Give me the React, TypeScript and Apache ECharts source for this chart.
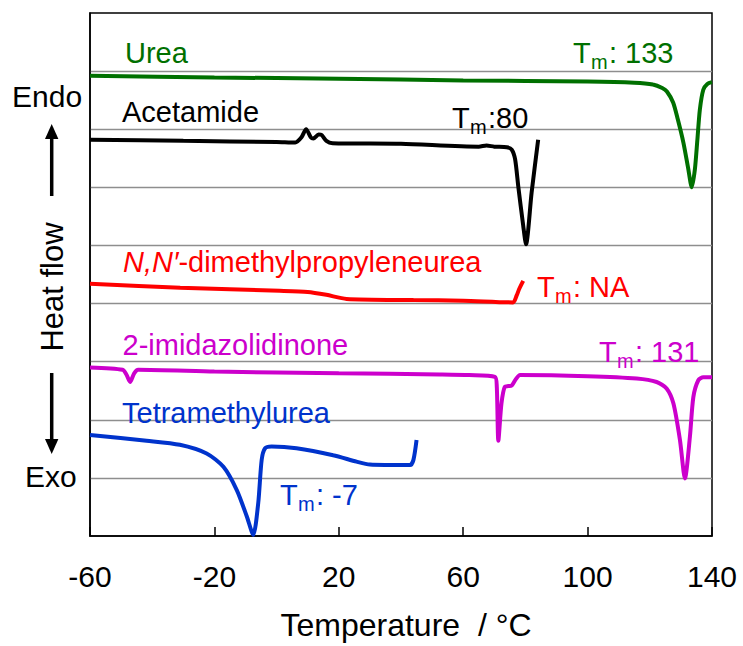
import React, { useEffect, useRef } from "react";
import * as echarts from "echarts";

const FONT = "'Liberation Sans', Arial, sans-serif";

// x tick labels (°C)
const xTicks = [-60, -20, 20, 60, 100, 140];

// DSC curves: [temperature °C, heat flow (arbitrary, offset units)]
const ureaData: [number, number][] = [
  [-60, 7.92], [-20, 7.89], [20, 7.87], [60, 7.84], [100, 7.82], [115, 7.8],
  [121, 7.77], [124, 7.71], [125.5, 7.65], [127.5, 7.46], [129, 7.17],
  [130.8, 6.77], [132.3, 6.34], [133.5, 6.0], [134.5, 6.31], [135.3, 6.82],
  [136.1, 7.34], [137.2, 7.68], [138.5, 7.78], [140, 7.81],
];
const acetamideData: [number, number][] = [
  [-60, 6.82], [-30, 6.8], [0, 6.78], [6, 6.77], [8, 6.86], [9.5, 7.0],
  [11, 6.86], [11.8, 6.84], [13.5, 6.91], [14.5, 6.9], [16, 6.8], [18, 6.76],
  [40, 6.75], [65, 6.7], [67.5, 6.72], [70, 6.7], [74, 6.69], [75.6, 6.65],
  [76.7, 6.48], [77.7, 6.02], [79.3, 5.34], [80.2, 5.02], [82, 5.91], [84.1, 6.82],
];
const dmpuData: [number, number][] = [
  [-60, 4.34], [-31, 4.27], [1, 4.22], [10, 4.2], [16, 4.15], [22.5, 4.08],
  [44, 4.06], [60, 4.05], [76, 4.02], [77.2, 4.14], [78, 4.25], [79.3, 4.39],
];
const imidazolidinoneData: [number, number][] = [
  [-60, 2.9], [-49.5, 2.86], [-48.3, 2.78], [-47.1, 2.65], [-45.8, 2.8],
  [-44.5, 2.86], [-20, 2.83], [20, 2.8], [52.5, 2.78], [62, 2.77], [70.2, 2.74],
  [70.8, 2.57], [71.3, 1.64], [72.3, 2.28], [73.4, 2.57], [74.5, 2.58],
  [75.6, 2.59], [76.7, 2.68], [78.3, 2.77], [100, 2.75], [115.8, 2.71],
  [122.2, 2.65], [125.4, 2.54], [127.6, 2.28], [129.7, 1.65], [131.3, 0.99],
  [132.9, 1.71], [134, 2.39], [135.6, 2.68], [137.2, 2.73], [140, 2.73],
];
const tmuData: [number, number][] = [
  [-60, 1.74], [-41.8, 1.64], [-31.1, 1.57], [-22.5, 1.42], [-17.1, 1.19],
  [-12.8, 0.79], [-9.6, 0.34], [-7.5, 0.02], [-5.9, 0.57], [-4.8, 1.31],
  [-3.7, 1.51], [-1.6, 1.54], [6.4, 1.51], [18.2, 1.39], [25.7, 1.28],
  [30, 1.23], [42.9, 1.22], [44, 1.31], [45, 1.65],
];

const seriesNames = ["Urea", "Acetamide", "N,N′-dimethylpropyleneurea", "2-imidazolidinone", "Tetramethylurea"];
const seriesColors = ["#007000", "#000000", "#ff0000", "#cc00cc", "#0033cc"];
const seriesData = [ureaData, acetamideData, dmpuData, imidazolidinoneData, tmuData];
const tmTexts = [": 133", ":80", ": NA", ": 131", ": -7"];

function txt(x: number, y: number, text: string, color: string, size = 29, extra: any = {}) {
  return {
    type: "text",
    x,
    y,
    z: 10,
    style: {
      text,
      fontSize: size,
      fontFamily: FONT,
      fill: color,
      align: "left",
      textAlign: "left",
      verticalAlign: "middle",
      textVerticalAlign: "middle",
      ...extra,
    },
  };
}

function tmLabel(x: number, y: number, rest: string, color: string) {
  return {
    type: "group",
    children: [
      txt(x, y, "T", color, 29),
      txt(x + 18, y + 9, "m", color, 20),
      txt(x + 36, y, rest, color, 29),
    ],
  };
}

export default function App() {
  const ref = useRef<HTMLDivElement>(null);
  useEffect(() => {
    if (!ref.current) return;
    const chart = echarts.init(ref.current, undefined, { renderer: "svg" });
    const nameLabelPos = [
      [125, 53], [122, 111.7], [123, 261.5], [122.5, 345], [122, 413],
    ];
    const tmPos = [
      [573, 53], [452, 118.3], [537, 287], [599, 351.7], [280, 495],
    ];
    const graphics: any[] = [];
    seriesNames.forEach((n, i) => {
      const [x, y] = nameLabelPos[i];
      if (i === 2) {
        graphics.push({
          type: "text",
          x,
          y,
          z: 10,
          style: {
            text: "{i|N,N′}{n|-dimethylpropyleneurea}",
            fill: seriesColors[i],
            fontSize: 29,
            fontFamily: FONT,
            verticalAlign: "middle",
            textVerticalAlign: "middle",
            rich: {
              i: { fontStyle: "italic", fontSize: 29, fontFamily: FONT, fill: seriesColors[i] },
              n: { fontSize: 29, fontFamily: FONT, fill: seriesColors[i] },
            },
          },
        });
      } else {
        graphics.push(txt(x, y, n, seriesColors[i]));
      }
      const [tx, ty] = tmPos[i];
      graphics.push(tmLabel(tx, ty, tmTexts[i], seriesColors[i]));
    });
    // y-axis annotations
    graphics.push(txt(12, 96, "Endo", "#000", 30));
    graphics.push(txt(25, 476, "Exo", "#000", 30));
    graphics.push({
      type: "text",
      x: 52,
      y: 287,
      rotation: Math.PI / 2,
      z: 10,
      style: {
        text: "Heat flow",
        fontSize: 31,
        fontFamily: FONT,
        fill: "#000",
        align: "center",
        textAlign: "center",
        verticalAlign: "middle",
        textVerticalAlign: "middle",
      },
    });
    graphics.push({
      type: "line",
      shape: { x1: 51.7, y1: 196, x2: 51.7, y2: 135 },
      style: { stroke: "#000", lineWidth: 3.5 },
    });
    graphics.push({
      type: "polygon",
      shape: { points: [[45, 139], [51.7, 124], [58.4, 139]] },
      style: { fill: "#000" },
    });
    graphics.push({
      type: "line",
      shape: { x1: 51.7, y1: 373, x2: 51.7, y2: 442 },
      style: { stroke: "#000", lineWidth: 3.5 },
    });
    graphics.push({
      type: "polygon",
      shape: { points: [[45, 439], [51.7, 454], [58.4, 439]] },
      style: { fill: "#000" },
    });

    chart.setOption({
      animation: false,
      grid: {
        left: 90,
        right: 31,
        top: 13,
        bottom: 108,
        show: true,
        borderColor: "#000",
        borderWidth: 1.5,
        backgroundColor: "transparent",
      },
      xAxis: {
        type: "value",
        min: xTicks[0],
        max: xTicks[xTicks.length - 1],
        interval: 40,
        name: "Temperature  / °C",
        nameLocation: "middle",
        nameGap: 73,
        nameTextStyle: { fontSize: 32, fontFamily: FONT, color: "#000", padding: [0, 0, 0, 10] },
        axisLine: { show: true, onZero: false, lineStyle: { color: "#000", width: 1.5 } },
        axisTick: { show: true, inside: true, length: 9, lineStyle: { color: "#000", width: 1.5 } },
        axisLabel: { fontSize: 30, fontFamily: FONT, color: "#000", margin: 25, showMinLabel: true, showMaxLabel: true },
        splitLine: { show: false },
      },
      yAxis: {
        type: "value",
        min: 0,
        max: 9,
        interval: 1,
        axisLine: { show: true, onZero: false, lineStyle: { color: "#000", width: 1.5 } },
        axisTick: { show: false },
        axisLabel: { show: false },
        splitLine: { show: true, showMinLine: false, showMaxLine: false, lineStyle: { color: "#8e8e8e", width: 1.3 } },
      },
      series: seriesData.map((d, i) => ({
        type: "line",
        name: seriesNames[i],
        data: d,
        showSymbol: false,
        smooth: 0.25,
        clip: false,
        lineStyle: { color: seriesColors[i], width: 4 },
        itemStyle: { color: seriesColors[i] },
        z: 3,
      })),
      graphic: graphics,
    });
    return () => chart.dispose();
  }, []);
  return (
    <div
      ref={ref}
      style={{ position: "fixed", left: 0, top: 0, width: 743, height: 646, background: "#fff" }}
    />
  );
}
